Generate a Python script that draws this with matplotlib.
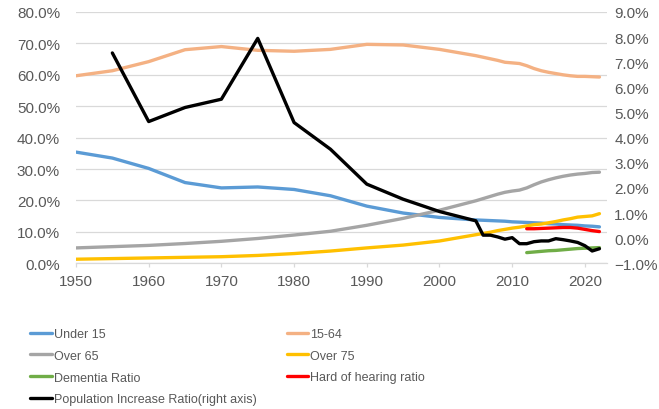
import matplotlib
matplotlib.use("Agg")
import matplotlib.pyplot as plt
from matplotlib.ticker import PercentFormatter, FixedLocator

plt.rcParams['font.family'] = ['Liberation Sans', 'DejaVu Sans']

years = [1950, 1955, 1960, 1965, 1970, 1975, 1980, 1985, 1990, 1995, 2000, 2005,
         2006, 2007, 2008, 2009, 2010, 2011, 2012, 2013, 2014, 2015, 2016, 2017,
         2018, 2019, 2020, 2021, 2022]

under15 = [35.4, 33.5, 30.2, 25.7, 24.0, 24.3, 23.5, 21.5, 18.2, 16.0, 14.6, 13.8,
           13.7, 13.6, 13.5, 13.4, 13.2, 13.1, 13.0, 12.9, 12.8, 12.6, 12.5, 12.3,
           12.2, 12.1, 11.9, 11.8, 11.6]
age15_64 = [59.7, 61.3, 64.2, 68.0, 69.0, 67.8, 67.5, 68.1, 69.7, 69.5, 68.1, 66.1,
            65.6, 65.1, 64.6, 64.0, 63.8, 63.6, 62.9, 62.0, 61.3, 60.8, 60.4, 60.0,
            59.7, 59.5, 59.5, 59.4, 59.3]
over65 = [4.9, 5.3, 5.7, 6.3, 7.0, 7.9, 9.0, 10.2, 12.1, 14.3, 16.9, 19.9,
          20.6, 21.3, 22.0, 22.6, 23.0, 23.3, 24.0, 25.0, 25.9, 26.6, 27.2, 27.7,
          28.1, 28.4, 28.6, 28.9, 29.0]
over75 = [1.3, 1.5, 1.7, 1.9, 2.1, 2.5, 3.1, 3.9, 4.9, 5.8, 7.1, 9.1,
          9.5, 9.9, 10.4, 10.8, 11.2, 11.5, 11.9, 12.3, 12.5, 12.9, 13.3, 13.8,
          14.2, 14.7, 14.9, 15.1, 15.8]

years_recent = [2012, 2013, 2014, 2015, 2016, 2017, 2018, 2019, 2020, 2021, 2022]
dementia = [3.4, 3.6, 3.8, 4.0, 4.1, 4.3, 4.5, 4.7, 4.8, 4.9, 5.0]
hard_hearing = [11.0, 11.0, 11.1, 11.2, 11.3, 11.4, 11.4, 11.2, 10.8, 10.4, 10.1]

years_pop = years[1:]
pop_increase = [7.37, 4.64, 5.20, 5.53, 7.95, 4.60, 3.54, 2.15, 1.55, 1.06, 0.69,
                0.12, 0.12, 0.05, -0.04, 0.02, -0.22, -0.22, -0.14, -0.11, -0.11, -0.02,
                -0.06, -0.11, -0.17, -0.30, -0.51, -0.42]

x_ticks = [1950, 1960, 1970, 1980, 1990, 2000, 2010, 2020]
left_ticks = [0, 10, 20, 30, 40, 50, 60, 70, 80]
right_ticks = [-1, 0, 1, 2, 3, 4, 5, 6, 7, 8, 9]

TXT = '#595959'
GRID = '#D9D9D9'

fig = plt.figure(figsize=(6.59, 4.10), dpi=100)
ax = fig.add_axes([76/659, 1-264.3/410, (606.7-76)/659, (264.3-13)/410])
ax2 = ax.twinx()

lw = 2.4
l1, = ax.plot(years, under15, color='#5B9BD5', lw=lw, label='Under 15', solid_capstyle='round')
l2, = ax.plot(years, age15_64, color='#F4B183', lw=lw, label='15-64', solid_capstyle='round')
l3, = ax.plot(years, over65, color='#A5A5A5', lw=lw, label='Over 65', solid_capstyle='round')
l4, = ax.plot(years, over75, color='#FFC000', lw=lw, label='Over 75', solid_capstyle='round')
l5, = ax.plot(years_recent, dementia, color='#70AD47', lw=lw, label='Dementia Ratio', solid_capstyle='round')
l6, = ax.plot(years_recent, hard_hearing, color='#FF0000', lw=lw, label='Hard of hearing ratio', solid_capstyle='round')
l7, = ax2.plot(years_pop, pop_increase, color='black', lw=lw, label='Population Increase Ratio(right axis)', solid_capstyle='round')

ax.set_xlim(1950, 2023)
ax.set_ylim(0, 80)
ax2.set_ylim(-1, 9)

ax.xaxis.set_major_locator(FixedLocator(x_ticks))
ax.yaxis.set_major_locator(FixedLocator(left_ticks))
ax2.yaxis.set_major_locator(FixedLocator(right_ticks))
ax.yaxis.set_major_formatter(PercentFormatter(xmax=100, decimals=1))
ax2.yaxis.set_major_formatter(PercentFormatter(xmax=100, decimals=1))

ax.grid(axis='y', color=GRID, lw=0.9)
ax.set_axisbelow(True)
for a in (ax, ax2):
    for s in ('top', 'left', 'right', 'bottom'):
        a.spines[s].set_visible(False)
ax.spines['bottom'].set_visible(True)
ax.spines['bottom'].set_color(GRID)
ax.spines['bottom'].set_linewidth(0.9)

ax.tick_params(axis='x', colors=GRID, labelcolor=TXT, labelsize=11, length=3, width=0.9, pad=5)
ax.tick_params(axis='y', length=0, labelcolor=TXT, labelsize=11, pad=11.5)
ax2.tick_params(axis='y', length=0, labelcolor=TXT, labelsize=11, pad=5.5)

handles = [l1, l3, l5, l7, l2, l4, l6]
fig.legend(handles=handles, labels=[h.get_label() for h in handles], ncol=2,
           loc='upper left', bbox_to_anchor=(30/659, 1-329/410), frameon=False,
           fontsize=9, labelcolor=TXT, handlelength=1.75, handletextpad=0.15,
           columnspacing=2.4, labelspacing=0.78, borderpad=0, borderaxespad=0)

fig.savefig('out.png', dpi=100)
